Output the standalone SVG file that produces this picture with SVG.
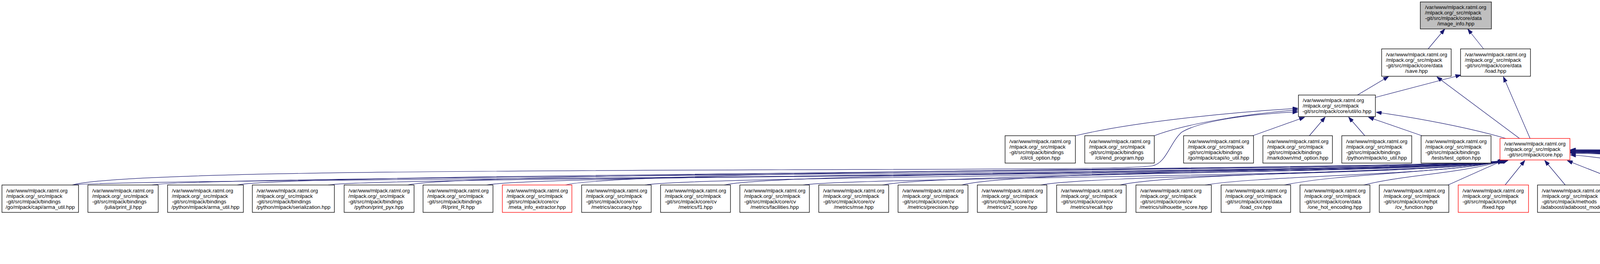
<svg xmlns="http://www.w3.org/2000/svg" width="7641" height="675" viewBox="0 0 7641 675">
<defs>
<style>
.n rect{fill:#fff;stroke:#000;stroke-width:1.33}
.r rect{stroke:#f00}
.g rect{fill:#bfbfbf}
text{font-family:"Liberation Sans",Arial,Helvetica,sans-serif;font-size:13.33px;fill:#000}
.m{text-anchor:middle}
#edges path{fill:none;stroke:#191970;stroke-width:1.2;marker-end:url(#arr)}
</style>
<marker id="arr" markerUnits="userSpaceOnUse" markerWidth="14" markerHeight="10" viewBox="0 0 14 10" refX="13" refY="5" orient="auto"><path d="M0,0 L14,5 L0,10 z" fill="#191970" stroke="#191970"/></marker>
</defs>
<rect width="7641" height="675" fill="#fff"/>
<g id="edges">
<path d="M3656,125 L3698,75"/>
<path d="M3798,125 L3758,75"/>
<path d="M3475,243 L3554,196"/>
<path d="M3521,249 L3739,192"/>
<path d="M3890,354 L3679,197"/>
<path d="M3917,354 L3849,197"/>
<path d="M3855,354 C3760,326 3620,300 3524,287"/>
<path d="M2753,347 C2900,312 3150,287 3322,277"/>
<path d="M2955,347 C3030,318 3180,292 3322,281"/>
<path d="M185,473 C300,440 1200,437 2000,434 C2600,432 2900,432 2950,424 C2985,418 2995,365 3025,338 C3075,308 3200,292 3322,286"/>
<path d="M3207,347 L3339,300"/>
<path d="M3352,347 L3392,300"/>
<path d="M3494,347 L3453,300"/>
<path d="M3640,347 L3504,300"/>
<path d="M185,473 C335,454 3718,454 3848,410"/>
<path d="M389,473 C539,446 3721,446 3851,410"/>
<path d="M607,473 C757,440 3724,440 3854,410"/>
<path d="M840,473 C990,450 3727,450 3857,410"/>
<path d="M1044,473 C1194,436 3730,436 3860,410"/>
<path d="M1246,473 C1396,444 3718,444 3848,410"/>
<path d="M1448,473 C1598,432 3721,432 3851,410"/>
<path d="M1651,473 C1801,448 3724,448 3854,410"/>
<path d="M1854,473 C2004,438 3727,438 3857,410"/>
<path d="M2056,473 C2206,452 3730,452 3860,410"/>
<path d="M2259,473 C2409,442 3720,442 3850,410"/>
<path d="M2462,473 C2612,434 3723,434 3853,410"/>
<path d="M2664,473 C2814,446 3726,446 3856,410"/>
<path d="M2867,473 C3017,440 3729,440 3859,410"/>
<path d="M3085,473 C3235,448 3719,448 3849,410"/>
<path d="M3288,473 C3438,442 3722,442 3852,410"/>
<path d="M3491,473 C3600,446 3725,446 3855,410"/>
<path d="M3707,473 L3846,411"/>
<path d="M3853,473 L3903,411"/>
<path d="M4007,473 L3955,411"/>
<path d="M4171,473 L4013,411"/>
<path d="M4379,473 C4300,440 4150,405 4021,396"/>
<path d="M4582,473 C4432,415 4217,396 4021,391"/>
<path d="M4785,473 C4635,412 4288,394 4021,389"/>
<path d="M4988,473 C4838,414 4359,395 4021,390"/>
<path d="M5190,473 C5040,410 4430,392 4021,387"/>
<path d="M5394,473 C5244,412 4502,394 4021,389"/>
<path d="M5601,473 C5451,408 4574,391 4021,386"/>
<path d="M5804,473 C5654,412 4645,393 4021,388"/>
<path d="M6031,466 C5881,408 4725,390 4021,385"/>
<path d="M6287,473 C6137,410 4814,392 4021,387"/>
<path d="M6490,473 C6340,406 4885,389 4021,384"/>
<path d="M6711,473 C6561,408 4962,391 4021,386"/>
<path d="M6966,473 C6816,404 5052,388 4021,383"/>
<path d="M7220,473 C7070,406 5141,390 4021,385"/>
<path d="M7474,473 C7324,404 5230,388 4021,383"/>
<path d="M6803,610 L6795,544"/>
<path d="M7051,602 L7047,544"/>
<path d="M7341,602 L7315,544"/>
<path d="M6846,610 C6880,570 6912,515 6900,482 C6890,460 6860,455 6820,452 C6500,428 5000,398 4021,392"/>
<path d="M7107,602 C7150,565 7180,505 7158,476 C7145,460 7105,457 7065,455 C6700,430 5100,398 4021,388"/>
<path d="M7383,602 C7410,560 7432,505 7410,476 C7397,460 7362,458 7322,456 C6900,430 5200,398 4021,385"/>
</g>
<g id="n-image_info" class="n g"><rect x="3636" y="5" width="182" height="69"/><text x="3648" y="23.3">/var/www/mlpack.ratml.org</text><text x="3648" y="37.3">/mlpack.org/_src/mlpack</text><text x="3648" y="51.3">-git/src/mlpack/core/data</text><text class="m" x="3727" y="65.3">/image_info.hpp</text></g>
<g id="n-save" class="n"><rect x="3537" y="125" width="178" height="70"/><text x="3548" y="143.8">/var/www/mlpack.ratml.org</text><text x="3548" y="157.8">/mlpack.org/_src/mlpack</text><text x="3548" y="171.8">-git/src/mlpack/core/data</text><text class="m" x="3626" y="185.8">/save.hpp</text></g>
<g id="n-load" class="n"><rect x="3739" y="125" width="179" height="70"/><text x="3750" y="143.8">/var/www/mlpack.ratml.org</text><text x="3750" y="157.8">/mlpack.org/_src/mlpack</text><text x="3750" y="171.8">-git/src/mlpack/core/data</text><text class="m" x="3828.5" y="185.8">/load.hpp</text></g>
<g id="n-io" class="n"><rect x="3324" y="243" width="197" height="55"/><text x="3335" y="261.3">/var/www/mlpack.ratml.org</text><text x="3335" y="275.3">/mlpack.org/_src/mlpack</text><text class="m" x="3422.5" y="289.3">-git/src/mlpack/core/util/io.hpp</text></g>
<g id="n-cli_option" class="n"><rect x="2573" y="347" width="180" height="70"/><text x="2584" y="365.8">/var/www/mlpack.ratml.org</text><text x="2584" y="379.8">/mlpack.org/_src/mlpack</text><text x="2584" y="393.8">-git/src/mlpack/bindings</text><text class="m" x="2663" y="407.8">/cli/cli_option.hpp</text></g>
<g id="n-end_program" class="n"><rect x="2777" y="347" width="178" height="70"/><text x="2788" y="365.8">/var/www/mlpack.ratml.org</text><text x="2788" y="379.8">/mlpack.org/_src/mlpack</text><text x="2788" y="393.8">-git/src/mlpack/bindings</text><text class="m" x="2866" y="407.8">/cli/end_program.hpp</text></g>
<g id="n-go_io_util" class="n"><rect x="3030" y="347" width="179" height="70"/><text x="3041" y="365.8">/var/www/mlpack.ratml.org</text><text x="3041" y="379.8">/mlpack.org/_src/mlpack</text><text x="3041" y="393.8">-git/src/mlpack/bindings</text><text class="m" x="3119.5" y="407.8">/go/mlpack/capi/io_util.hpp</text></g>
<g id="n-md_option" class="n"><rect x="3233" y="347" width="178" height="70"/><text x="3244" y="365.8">/var/www/mlpack.ratml.org</text><text x="3244" y="379.8">/mlpack.org/_src/mlpack</text><text x="3244" y="393.8">-git/src/mlpack/bindings</text><text class="m" x="3322" y="407.8">/markdown/md_option.hpp</text></g>
<g id="n-py_io_util" class="n"><rect x="3435" y="347" width="179" height="70"/><text x="3446" y="365.8">/var/www/mlpack.ratml.org</text><text x="3446" y="379.8">/mlpack.org/_src/mlpack</text><text x="3446" y="393.8">-git/src/mlpack/bindings</text><text class="m" x="3524.5" y="407.8">/python/mlpack/io_util.hpp</text></g>
<g id="n-test_option" class="n"><rect x="3638" y="347" width="179" height="70"/><text x="3649" y="365.8">/var/www/mlpack.ratml.org</text><text x="3649" y="379.8">/mlpack.org/_src/mlpack</text><text x="3649" y="393.8">-git/src/mlpack/bindings</text><text class="m" x="3727.5" y="407.8">/tests/test_option.hpp</text></g>
<g id="n-core" class="n r"><rect x="3840" y="354" width="179" height="55"/><text x="3851" y="372.3">/var/www/mlpack.ratml.org</text><text x="3851" y="386.3">/mlpack.org/_src/mlpack</text><text class="m" x="3929.5" y="400.3">-git/src/mlpack/core.hpp</text></g>
<g id="n-go_arma_util" class="n"><rect x="5" y="473" width="196" height="70"/><text x="16" y="491.8">/var/www/mlpack.ratml.org</text><text x="16" y="505.8">/mlpack.org/_src/mlpack</text><text x="16" y="519.8">-git/src/mlpack/bindings</text><text class="m" x="103" y="533.8">/go/mlpack/capi/arma_util.hpp</text></g>
<g id="n-print_jl" class="n"><rect x="225" y="473" width="180" height="70"/><text x="236" y="491.8">/var/www/mlpack.ratml.org</text><text x="236" y="505.8">/mlpack.org/_src/mlpack</text><text x="236" y="519.8">-git/src/mlpack/bindings</text><text class="m" x="315" y="533.8">/julia/print_jl.hpp</text></g>
<g id="n-py_arma_util" class="n"><rect x="429" y="473" width="194" height="70"/><text x="440" y="491.8">/var/www/mlpack.ratml.org</text><text x="440" y="505.8">/mlpack.org/_src/mlpack</text><text x="440" y="519.8">-git/src/mlpack/bindings</text><text class="m" x="526" y="533.8">/python/mlpack/arma_util.hpp</text></g>
<g id="n-py_serialization" class="n"><rect x="646" y="473" width="210" height="70"/><text x="657" y="491.8">/var/www/mlpack.ratml.org</text><text x="657" y="505.8">/mlpack.org/_src/mlpack</text><text x="657" y="519.8">-git/src/mlpack/bindings</text><text class="m" x="751" y="533.8">/python/mlpack/serialization.hpp</text></g>
<g id="n-print_pyx" class="n"><rect x="881" y="473" width="179" height="70"/><text x="892" y="491.8">/var/www/mlpack.ratml.org</text><text x="892" y="505.8">/mlpack.org/_src/mlpack</text><text x="892" y="519.8">-git/src/mlpack/bindings</text><text class="m" x="970.5" y="533.8">/python/print_pyx.hpp</text></g>
<g id="n-print_R" class="n"><rect x="1083" y="473" width="179" height="70"/><text x="1094" y="491.8">/var/www/mlpack.ratml.org</text><text x="1094" y="505.8">/mlpack.org/_src/mlpack</text><text x="1094" y="519.8">-git/src/mlpack/bindings</text><text class="m" x="1172.5" y="533.8">/R/print_R.hpp</text></g>
<g id="n-meta_info_extractor" class="n r"><rect x="1286" y="473" width="178" height="70"/><text x="1297" y="491.8">/var/www/mlpack.ratml.org</text><text x="1297" y="505.8">/mlpack.org/_src/mlpack</text><text x="1297" y="519.8">-git/src/mlpack/core/cv</text><text class="m" x="1375" y="533.8">/meta_info_extractor.hpp</text></g>
<g id="n-accuracy" class="n"><rect x="1489" y="473" width="178" height="70"/><text x="1500" y="491.8">/var/www/mlpack.ratml.org</text><text x="1500" y="505.8">/mlpack.org/_src/mlpack</text><text x="1500" y="519.8">-git/src/mlpack/core/cv</text><text class="m" x="1578" y="533.8">/metrics/accuracy.hpp</text></g>
<g id="n-f1" class="n"><rect x="1691" y="473" width="179" height="70"/><text x="1702" y="491.8">/var/www/mlpack.ratml.org</text><text x="1702" y="505.8">/mlpack.org/_src/mlpack</text><text x="1702" y="519.8">-git/src/mlpack/core/cv</text><text class="m" x="1780.5" y="533.8">/metrics/f1.hpp</text></g>
<g id="n-facilities" class="n"><rect x="1894" y="473" width="178" height="70"/><text x="1905" y="491.8">/var/www/mlpack.ratml.org</text><text x="1905" y="505.8">/mlpack.org/_src/mlpack</text><text x="1905" y="519.8">-git/src/mlpack/core/cv</text><text class="m" x="1983" y="533.8">/metrics/facilities.hpp</text></g>
<g id="n-mse" class="n"><rect x="2096" y="473" width="179" height="70"/><text x="2107" y="491.8">/var/www/mlpack.ratml.org</text><text x="2107" y="505.8">/mlpack.org/_src/mlpack</text><text x="2107" y="519.8">-git/src/mlpack/core/cv</text><text class="m" x="2185.5" y="533.8">/metrics/mse.hpp</text></g>
<g id="n-precision" class="n"><rect x="2299" y="473" width="179" height="70"/><text x="2310" y="491.8">/var/www/mlpack.ratml.org</text><text x="2310" y="505.8">/mlpack.org/_src/mlpack</text><text x="2310" y="519.8">-git/src/mlpack/core/cv</text><text class="m" x="2388.5" y="533.8">/metrics/precision.hpp</text></g>
<g id="n-r2_score" class="n"><rect x="2502" y="473" width="178" height="70"/><text x="2513" y="491.8">/var/www/mlpack.ratml.org</text><text x="2513" y="505.8">/mlpack.org/_src/mlpack</text><text x="2513" y="519.8">-git/src/mlpack/core/cv</text><text class="m" x="2591" y="533.8">/metrics/r2_score.hpp</text></g>
<g id="n-recall" class="n"><rect x="2705" y="473" width="178" height="70"/><text x="2716" y="491.8">/var/www/mlpack.ratml.org</text><text x="2716" y="505.8">/mlpack.org/_src/mlpack</text><text x="2716" y="519.8">-git/src/mlpack/core/cv</text><text class="m" x="2794" y="533.8">/metrics/recall.hpp</text></g>
<g id="n-silhouette_score" class="n"><rect x="2908" y="473" width="193" height="70"/><text x="2919" y="491.8">/var/www/mlpack.ratml.org</text><text x="2919" y="505.8">/mlpack.org/_src/mlpack</text><text x="2919" y="519.8">-git/src/mlpack/core/cv</text><text class="m" x="3004.5" y="533.8">/metrics/silhouette_score.hpp</text></g>
<g id="n-load_csv" class="n"><rect x="3126" y="473" width="178" height="70"/><text x="3137" y="491.8">/var/www/mlpack.ratml.org</text><text x="3137" y="505.8">/mlpack.org/_src/mlpack</text><text x="3137" y="519.8">-git/src/mlpack/core/data</text><text class="m" x="3215" y="533.8">/load_csv.hpp</text></g>
<g id="n-one_hot_encoding" class="n"><rect x="3328" y="473" width="179" height="70"/><text x="3339" y="491.8">/var/www/mlpack.ratml.org</text><text x="3339" y="505.8">/mlpack.org/_src/mlpack</text><text x="3339" y="519.8">-git/src/mlpack/core/data</text><text class="m" x="3417.5" y="533.8">/one_hot_encoding.hpp</text></g>
<g id="n-cv_function" class="n"><rect x="3531" y="473" width="178" height="70"/><text x="3542" y="491.8">/var/www/mlpack.ratml.org</text><text x="3542" y="505.8">/mlpack.org/_src/mlpack</text><text x="3542" y="519.8">-git/src/mlpack/core/hpt</text><text class="m" x="3620" y="533.8">/cv_function.hpp</text></g>
<g id="n-fixed" class="n r"><rect x="3733" y="473" width="180" height="70"/><text x="3744" y="491.8">/var/www/mlpack.ratml.org</text><text x="3744" y="505.8">/mlpack.org/_src/mlpack</text><text x="3744" y="519.8">-git/src/mlpack/core/hpt</text><text class="m" x="3823" y="533.8">/fixed.hpp</text></g>
<g id="n-adaboost_model" class="n"><rect x="3936" y="473" width="203" height="70"/><text x="3947" y="491.8">/var/www/mlpack.ratml.org</text><text x="3947" y="505.8">/mlpack.org/_src/mlpack</text><text x="3947" y="519.8">-git/src/mlpack/methods</text><text class="m" x="4037.5" y="533.8">/adaboost/adaboost_model.hpp</text></g>
<g id="n-gan" class="n"><rect x="4163" y="473" width="178" height="70"/><text x="4174" y="491.8">/var/www/mlpack.ratml.org</text><text x="4174" y="505.8">/mlpack.org/_src/mlpack</text><text x="4174" y="519.8">-git/src/mlpack/methods</text><text class="m" x="4252" y="533.8">/ann/gan/gan.hpp</text></g>
<g id="n-recurrent" class="n r"><rect x="4366" y="473" width="178" height="70"/><text x="4377" y="491.8">/var/www/mlpack.ratml.org</text><text x="4377" y="505.8">/mlpack.org/_src/mlpack</text><text x="4377" y="519.8">-git/src/mlpack/methods</text><text class="m" x="4455" y="533.8">/ann/layer/recurrent.hpp</text></g>
<g id="n-layer_names" class="n"><rect x="4568" y="473" width="179" height="70"/><text x="4579" y="491.8">/var/www/mlpack.ratml.org</text><text x="4579" y="505.8">/mlpack.org/_src/mlpack</text><text x="4579" y="519.8">-git/src/mlpack/methods</text><text class="m" x="4657.5" y="533.8">/ann/layer_names.hpp</text></g>
<g id="n-rbm" class="n"><rect x="4771" y="473" width="179" height="70"/><text x="4782" y="491.8">/var/www/mlpack.ratml.org</text><text x="4782" y="505.8">/mlpack.org/_src/mlpack</text><text x="4782" y="519.8">-git/src/mlpack/methods</text><text class="m" x="4860.5" y="533.8">/ann/rbm/rbm.hpp</text></g>
<g id="n-cf_model" class="n"><rect x="4974" y="473" width="178" height="70"/><text x="4985" y="491.8">/var/www/mlpack.ratml.org</text><text x="4985" y="505.8">/mlpack.org/_src/mlpack</text><text x="4985" y="519.8">-git/src/mlpack/methods</text><text class="m" x="5063" y="533.8">/cf/cf_model.hpp</text></g>
<g id="n-dbscan" class="n"><rect x="5176" y="473" width="179" height="70"/><text x="5187" y="491.8">/var/www/mlpack.ratml.org</text><text x="5187" y="505.8">/mlpack.org/_src/mlpack</text><text x="5187" y="519.8">-git/src/mlpack/methods</text><text class="m" x="5265.5" y="533.8">/dbscan/dbscan.hpp</text></g>
<g id="n-gini_gain" class="n r"><rect x="5380" y="473" width="182" height="70"/><text x="5391" y="491.8">/var/www/mlpack.ratml.org</text><text x="5391" y="505.8">/mlpack.org/_src/mlpack</text><text x="5391" y="519.8">-git/src/mlpack/methods</text><text class="m" x="5471" y="533.8">/decision_tree/gini_gain.hpp</text></g>
<g id="n-kde_model" class="n"><rect x="5587" y="473" width="179" height="70"/><text x="5598" y="491.8">/var/www/mlpack.ratml.org</text><text x="5598" y="505.8">/mlpack.org/_src/mlpack</text><text x="5598" y="519.8">-git/src/mlpack/methods</text><text class="m" x="5676.5" y="533.8">/kde/kde_model.hpp</text></g>
<g id="n-scaling_model" class="n"><rect x="5790" y="473" width="203" height="70"/><text x="5801" y="491.8">/var/www/mlpack.ratml.org</text><text x="5801" y="505.8">/mlpack.org/_src/mlpack</text><text x="5801" y="519.8">-git/src/mlpack/methods</text><text class="m" x="5891.5" y="533.8">/preprocess/scaling_model.hpp</text></g>
<g id="n-acrobot" class="n"><rect x="6017" y="466" width="232" height="85"/><text x="6028" y="485.3">/var/www/mlpack.ratml.org</text><text x="6028" y="499.3">/mlpack.org/_src/mlpack</text><text x="6028" y="513.3">-git/src/mlpack/methods</text><text x="6028" y="527.3">/reinforcement_learning/environment</text><text class="m" x="6133" y="541.3">/acrobot.hpp</text></g>
<g id="n-ann_test_tools" class="n"><rect x="6273" y="473" width="178" height="70"/><text x="6284" y="491.8">/var/www/mlpack.ratml.org</text><text x="6284" y="505.8">/mlpack.org/_src/mlpack</text><text x="6284" y="519.8">-git/src/mlpack/tests/ann</text><text class="m" x="6362" y="533.8">_test_tools.hpp</text></g>
<g id="n-range_search_utils" class="n"><rect x="6476" y="473" width="196" height="70"/><text x="6487" y="491.8">/var/www/mlpack.ratml.org</text><text x="6487" y="505.8">/mlpack.org/_src/mlpack</text><text x="6487" y="519.8">-git/src/mlpack/tests/main</text><text class="m" x="6574" y="533.8">_tests/range_search_utils.hpp</text></g>
<g id="n-test_tools" class="n"><rect x="6697" y="473" width="180" height="70"/><text x="6708" y="491.8">/var/www/mlpack.ratml.org</text><text x="6708" y="505.8">/mlpack.org/_src/mlpack</text><text x="6708" y="519.8">-git/src/mlpack/tests/test</text><text class="m" x="6787" y="533.8">_tools.hpp</text></g>
<g id="n-print_help" class="n"><rect x="6952" y="473" width="180" height="70"/><text x="6963" y="491.8">/var/www/mlpack.ratml.org</text><text x="6963" y="505.8">/mlpack.org/_src/mlpack</text><text x="6963" y="519.8">-git/src/mlpack/bindings</text><text class="m" x="7042" y="533.8">/cli/print_help.hpp</text></g>
<g id="n-test_catch_tools" class="n"><rect x="7206" y="473" width="180" height="70"/><text x="7217" y="491.8">/var/www/mlpack.ratml.org</text><text x="7217" y="505.8">/mlpack.org/_src/mlpack</text><text x="7217" y="519.8">-git/src/mlpack/tests/test</text><text class="m" x="7296" y="533.8">_catch_tools.hpp</text></g>
<g id="n-print_go" class="n"><rect x="7460" y="473" width="180" height="70"/><text x="7471" y="491.8">/var/www/mlpack.ratml.org</text><text x="7471" y="505.8">/mlpack.org/_src/mlpack</text><text x="7471" y="519.8">-git/src/mlpack/bindings</text><text class="m" x="7550" y="533.8">/go/print_go.hpp</text></g>
<g id="n-serialization" class="n"><rect x="6689" y="610" width="239" height="54"/><text x="6700" y="627.8">/var/www/mlpack.ratml.org</text><text x="6700" y="641.8">/mlpack.org/_src/mlpack</text><text class="m" x="6808.5" y="655.8">-git/src/mlpack/tests/serialization.hpp</text></g>
<g id="n-parse_command_line" class="n"><rect x="6959" y="602" width="192" height="70"/><text x="6970" y="620.8">/var/www/mlpack.ratml.org</text><text x="6970" y="634.8">/mlpack.org/_src/mlpack</text><text x="6970" y="648.8">-git/src/mlpack/bindings</text><text class="m" x="7055" y="662.8">/cli/parse_command_line.hpp</text></g>
<g id="n-serialization_catch" class="n"><rect x="7251" y="602" width="215" height="70"/><text x="7262" y="620.8">/var/www/mlpack.ratml.org</text><text x="7262" y="634.8">/mlpack.org/_src/mlpack</text><text x="7262" y="648.8">-git/src/mlpack/tests/serialization</text><text class="m" x="7358.5" y="662.8">_catch.hpp</text></g>
</svg>
